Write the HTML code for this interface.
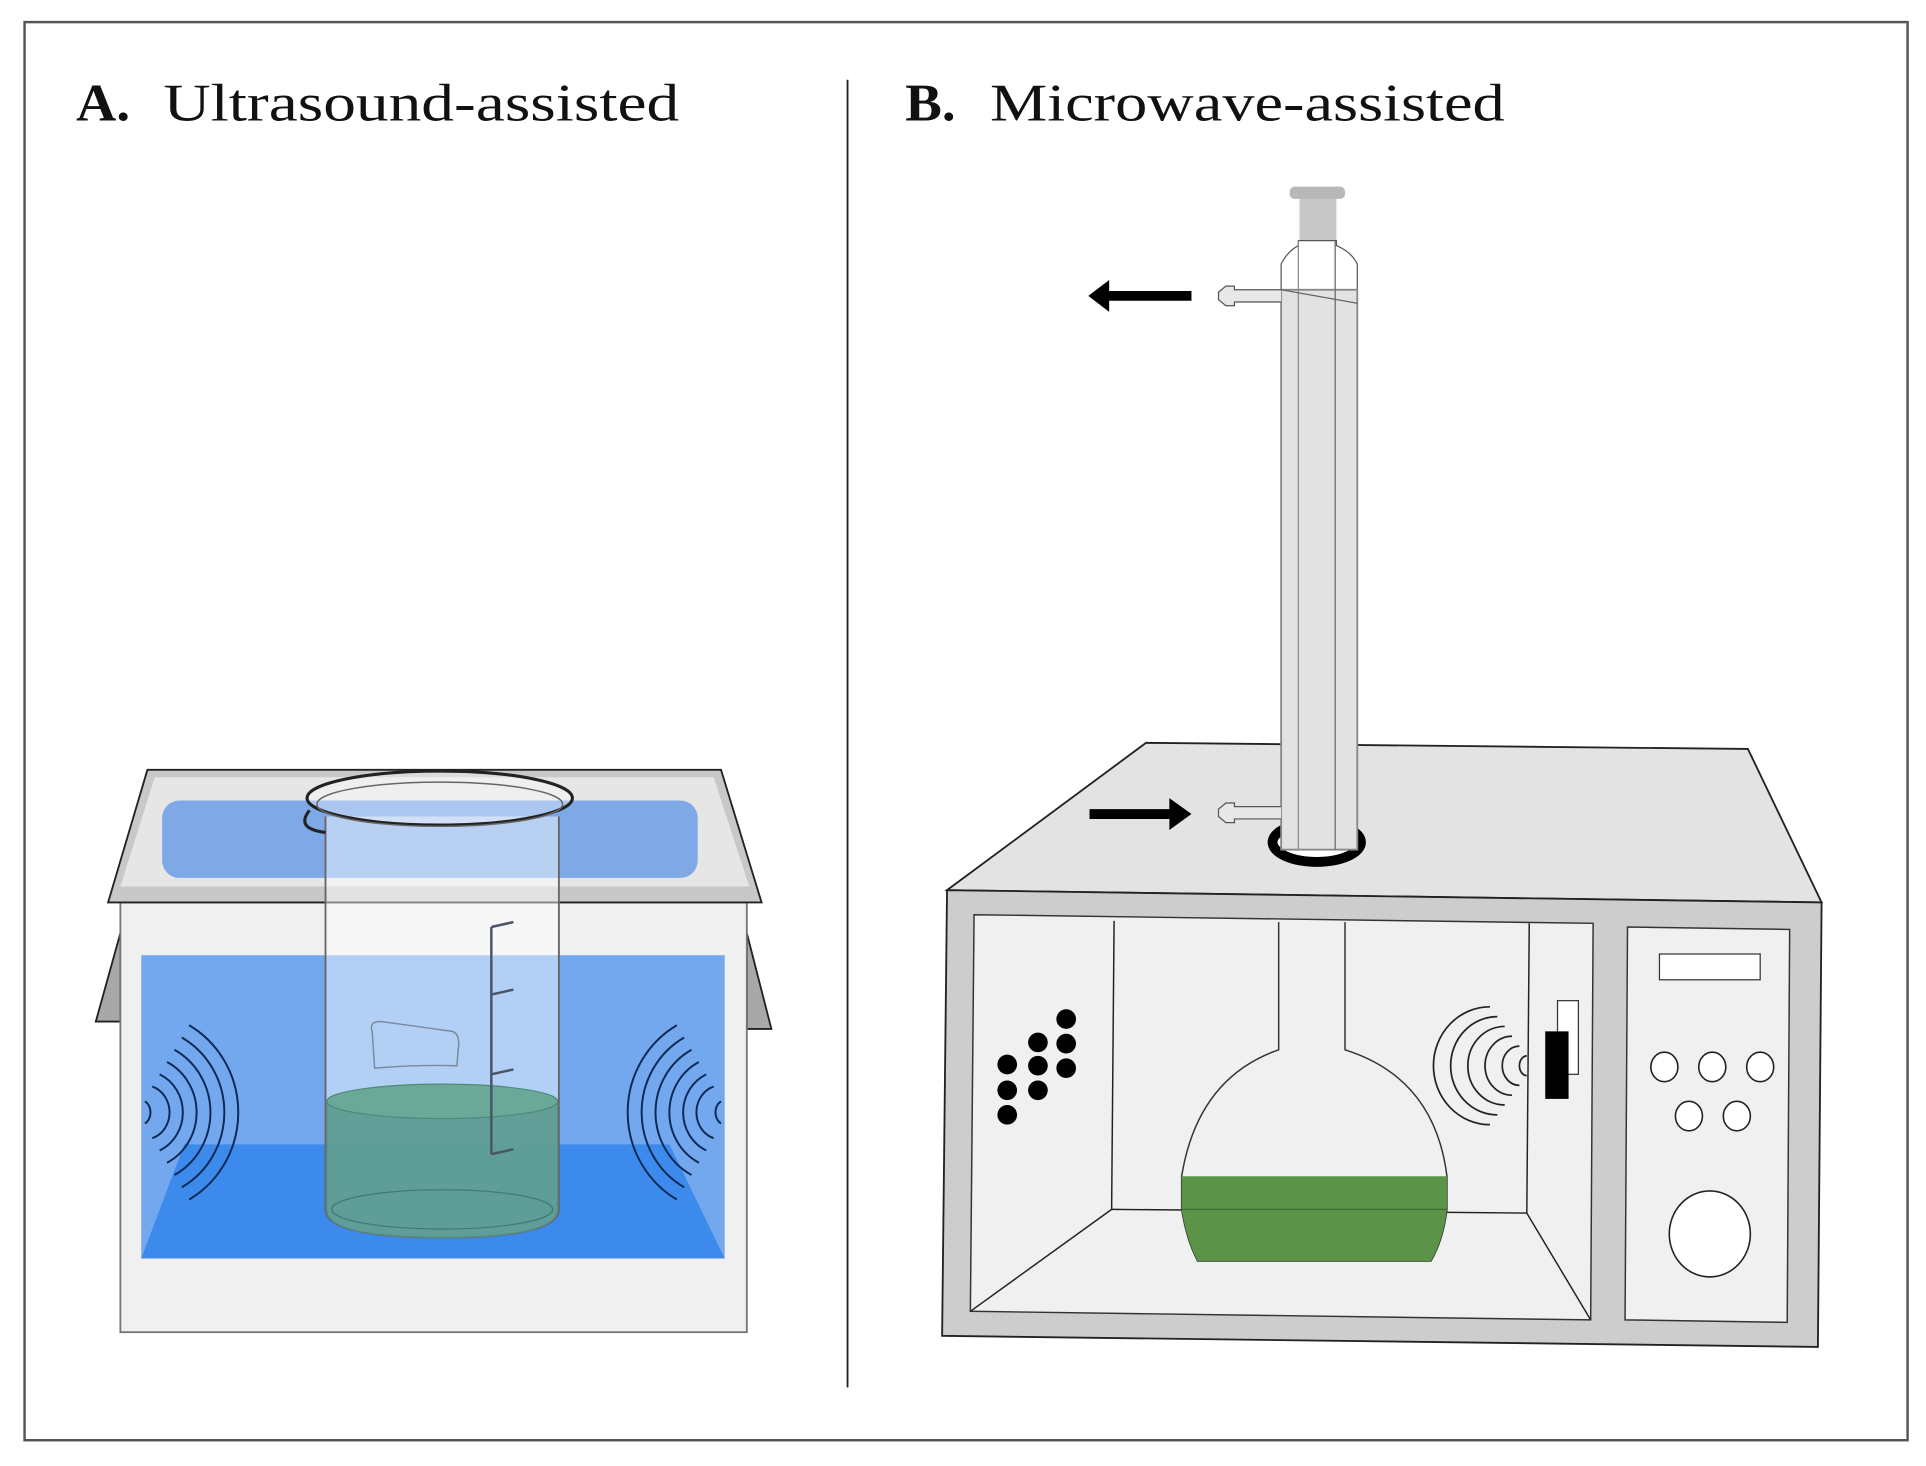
<!DOCTYPE html>
<html><head><meta charset="utf-8"><style>
html,body{margin:0;padding:0;background:#fff;}
svg{display:block;}
</style></head><body>
<svg width="1926" height="1466" viewBox="0 0 1568 1194" preserveAspectRatio="none" xmlns="http://www.w3.org/2000/svg">
<rect x="0" y="0" width="1568" height="1194" fill="#fff"/>
<rect x="20" y="18" width="1533" height="1155" fill="none" stroke="#555" stroke-width="2"/>
<line x1="690" y1="65" x2="690" y2="1130" stroke="#222" stroke-width="1.5"/>
<text x="62" y="98" font-family="Liberation Serif, serif" font-size="43" font-weight="bold" fill="#111" textLength="44" lengthAdjust="spacingAndGlyphs">A.</text>
<text x="133" y="98" font-family="Liberation Serif, serif" font-size="43" fill="#111" textLength="420" lengthAdjust="spacingAndGlyphs">Ultrasound-assisted</text>
<text x="737" y="98" font-family="Liberation Serif, serif" font-size="43" font-weight="bold" fill="#111" textLength="41" lengthAdjust="spacingAndGlyphs">B.</text>
<text x="806" y="98" font-family="Liberation Serif, serif" font-size="43" fill="#111" textLength="419" lengthAdjust="spacingAndGlyphs">Microwave-assisted</text>

<!-- Ultrasound bath -->
<polygon points="98,760 78,832 98,832" fill="#a8a8a8" stroke="#222" stroke-width="1.5"/>
<polygon points="608,760 628,838 608,838" fill="#a8a8a8" stroke="#222" stroke-width="1.5"/>
<rect x="98" y="735" width="510" height="350" fill="#f0f0f0" stroke="#777" stroke-width="1.5"/>
<polygon points="120,627 587,627 620,735 88,735" fill="#c8c8c8" stroke="#222" stroke-width="1.5"/>
<polygon points="126,633 581,633 610,722 98,722" fill="#e6e6e6"/>
<rect x="132" y="652" width="436" height="63" rx="14" fill="#7ea9e6"/>
<rect x="115" y="778" width="475" height="247" fill="#74a8ee"/>
<polygon points="150,932 545,932 590,1025 115,1025" fill="#3c8aeb"/>
<!-- waves -->
<g fill="none" stroke="#0c2a55" stroke-width="1.6">
<path d="M118,897 A8,10 0 0 1 118,915"/>
<path d="M124,885 A20,22 0 0 1 124,927"/>
<path d="M130,875 A32,34 0 0 1 130,937"/>
<path d="M136,865 A44,46 0 0 1 136,947"/>
<path d="M142,855 A56,58 0 0 1 142,957"/>
<path d="M148,845 A68,70 0 0 1 148,967"/>
<path d="M154,835 A80,82 0 0 1 154,977"/>
<path d="M587,897 A8,10 0 0 0 587,915"/>
<path d="M581,885 A20,22 0 0 0 581,927"/>
<path d="M575,875 A32,34 0 0 0 575,937"/>
<path d="M569,865 A44,46 0 0 0 569,947"/>
<path d="M563,855 A56,58 0 0 0 563,957"/>
<path d="M557,845 A68,70 0 0 0 557,967"/>
<path d="M551,835 A80,82 0 0 0 551,977"/>
</g>
<!-- beaker -->
<path d="M265,665 L265,985 Q265,1008 360,1008 Q455,1008 455,985 L455,665" fill="rgba(255,255,255,0.45)" stroke="#666" stroke-width="1.5"/>
<path d="M266,897 Q360,875 454,897 L454,985 Q454,1008 360,1008 Q266,1008 266,985 Z" fill="rgba(85,150,135,0.85)" stroke="#5a8a80"/>
<ellipse cx="360" cy="897" rx="94" ry="14" fill="#6aa898" stroke="#4f8a7c"/>
<ellipse cx="360" cy="985" rx="90" ry="16" fill="none" stroke="#3f7d70"/>
<ellipse cx="358" cy="650" rx="108" ry="22" fill="#fff" fill-opacity="0.35" stroke="#222" stroke-width="2.5"/>
<ellipse cx="358" cy="655" rx="100" ry="18" fill="none" stroke="#666" stroke-width="1.2"/>
<path d="M252,660 Q240,675 265,678" fill="none" stroke="#222" stroke-width="2.5"/>
<path d="M303,840 Q300,832 310,832 Q340,836 368,840 Q375,842 373,855 L372,868 Q340,867 305,870 Z" fill="none" stroke="#7a8a9a" stroke-width="1.2"/>
<g stroke="#4a5566" stroke-width="2" fill="none">
<line x1="400" y1="755" x2="400" y2="940"/>
<line x1="400" y1="755" x2="418" y2="751"/>
<line x1="400" y1="810" x2="418" y2="806"/>
<line x1="400" y1="875" x2="418" y2="871"/>
<line x1="400" y1="940" x2="418" y2="936"/>
</g>

<!-- Microwave -->
<polygon points="771,725 933,605 1423,610 1483,735" fill="#e3e3e3" stroke="#222" stroke-width="1.5"/>
<polygon points="771,725 1483,735 1480,1097 767,1088" fill="#cdcdcd" stroke="#222" stroke-width="1.5"/>
<polygon points="793,745 1297,752 1295,1075 790,1068" fill="#f0f0f0" stroke="#333" stroke-width="1.2"/>
<polygon points="1325,755 1457,757 1455,1077 1323,1075" fill="#f0f0f0" stroke="#333" stroke-width="1.2"/>
<g fill="none" stroke="#222" stroke-width="1.2">
<line x1="907" y1="750" x2="905" y2="985"/>
<line x1="1245" y1="752" x2="1243" y2="988"/>
<line x1="905" y1="985" x2="1243" y2="988"/>
<line x1="905" y1="985" x2="790" y2="1068"/>
<line x1="1243" y1="988" x2="1295" y2="1075"/>
</g>
<rect x="1351" y="777" width="82" height="21" fill="#fff" stroke="#333"/>
<g fill="#fff" stroke="#222" stroke-width="1.3">
<ellipse cx="1355" cy="869" rx="11" ry="12"/>
<ellipse cx="1394" cy="869" rx="11" ry="12"/>
<ellipse cx="1433" cy="869" rx="11" ry="12"/>
<ellipse cx="1375" cy="909" rx="11" ry="12"/>
<ellipse cx="1414" cy="909" rx="11" ry="12"/>
<ellipse cx="1392" cy="1005" rx="33" ry="35"/>
</g>
<g fill="#000">
<circle cx="820" cy="867" r="8"/><circle cx="820" cy="888" r="8"/><circle cx="820" cy="908" r="8"/>
<circle cx="845" cy="849" r="8"/><circle cx="845" cy="868" r="8"/><circle cx="845" cy="888" r="8"/>
<circle cx="868" cy="830" r="8"/><circle cx="868" cy="850" r="8"/><circle cx="868" cy="870" r="8"/>
</g>
<!-- flask -->
<path d="M1041,751 L1041,855 Q975,878 962,958 L962,985 Q966,1010 975,1027 L1165,1027 Q1175,1010 1178,985 L1178,958 Q1168,878 1095,855 L1095,751" fill="#f0f0f0" stroke="#333" stroke-width="1.2"/>
<path d="M962,958 L1178,958 L1178,985 Q1175,1010 1165,1027 L975,1027 Q966,1010 962,985 Z" fill="#5b9449"/>
<line x1="962" y1="985" x2="1178" y2="985" stroke="#3d6e32" stroke-width="1"/>
<!-- magnetron -->
<rect x="1268" y="815" width="17" height="60" fill="#fff" stroke="#333"/>
<rect x="1258" y="840" width="19" height="55" fill="#000"/>
<g fill="none" stroke="#222" stroke-width="1.4">
<path d="M1243,860 A6,8 0 0 0 1243,876"/>
<path d="M1237,852 A14,16 0 0 0 1237,884"/>
<path d="M1231,844 A22,24 0 0 0 1231,892"/>
<path d="M1225,836 A30,32 0 0 0 1225,900"/>
<path d="M1219,828 A38,40 0 0 0 1219,908"/>
<path d="M1213,820 A46,48 0 0 0 1213,916"/>
</g>
<!-- condenser -->
<ellipse cx="1072" cy="686" rx="36" ry="16" fill="#fff" stroke="#000" stroke-width="8"/>
<rect x="1058" y="156" width="30" height="40" fill="#c8c8c8"/>
<rect x="1050" y="152" width="45" height="10" rx="4" fill="#b8b8b8"/>
<path d="M1043,240 L1043,215 Q1048,205 1057,200 L1057,196 L1088,196 L1088,200 Q1100,205 1105,215 L1105,240" fill="#fff" stroke="#555"/>
<rect x="1043" y="236" width="62" height="456" fill="#e2e2e2" stroke="#888" stroke-width="1.5"/>
<line x1="1057" y1="196" x2="1057" y2="692" stroke="#888"/>
<line x1="1087" y1="196" x2="1087" y2="692" stroke="#666"/>
<path d="M1043,236 L1105,247" stroke="#666" fill="none"/>
<path d="M1043,236 L1005,236 L1005,233 L998,233 L992,238 L992,244 L998,249 L1005,249 L1005,246 L1043,246" fill="#e8e8e8" stroke="#555"/>
<path d="M1043,657 L1005,657 L1005,654 L998,654 L992,659 L992,665 L998,670 L1005,670 L1005,667 L1043,667" fill="#e8e8e8" stroke="#555"/>
<!-- arrows -->
<polygon points="970,237 903,237 903,228 886,241 903,254 903,245 970,245" fill="#000"/>
<polygon points="887,659 952,659 952,650 970,663 952,676 952,667 887,667" fill="#000"/>
</svg>
</body></html>
